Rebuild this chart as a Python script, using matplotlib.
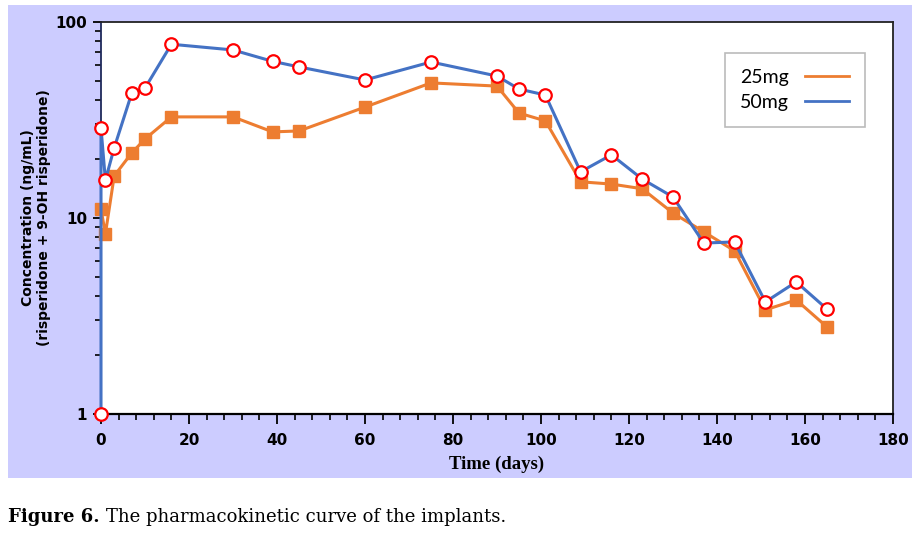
import numpy as np
import matplotlib.pyplot as plt
from matplotlib.patches import Rectangle
from matplotlib.ticker import FixedLocator, MultipleLocator, NullFormatter

# days / concentrations
days_25 = [0, 1, 3, 7, 10, 16, 30, 39, 45, 60, 75, 90, 95, 101, 109, 116, 123, 130, 137, 144, 151, 158, 165]
conc_25 = [11.1, 8.3, 16.4, 21.5, 25.3, 32.8, 32.8, 27.5, 27.8, 36.8, 48.9, 47.1, 34.3, 31.3,
           15.3, 14.9, 14.1, 10.6, 8.5, 6.8, 3.4, 3.82, 2.78]

days_50 = [0, 0, 1, 3, 7, 10, 16, 30, 39, 45, 60, 75, 90, 95, 101, 109, 116, 123, 130, 137, 144, 151, 158, 165]
conc_50 = [1.0, 28.8, 15.6, 22.8, 43.4, 46.0, 77.0, 72.0, 63.0, 59.0, 50.6, 62.5, 53.0, 45.5, 42.4,
           17.2, 21.0, 15.8, 12.8, 7.45, 7.55, 3.73, 4.72, 3.43]

x_ticks = [0, 20, 40, 60, 80, 100, 120, 140, 160, 180]
y_ticks = [1, 10, 100]
y_tick_labels = ["1", "10", "100"]

orange = "#ED7D31"
blue = "#4472C4"

fig = plt.figure(figsize=(9.18, 5.34), dpi=100)
fig.patch.set_facecolor("white")

# lavender panel behind the chart
W, H = 918, 534
fig.patches.append(Rectangle((8 / W, 1 - 478 / H), 904 / W, 473 / H,
                             transform=fig.transFigure, facecolor="#CCCCFF",
                             edgecolor="none", zorder=-10))

ax = fig.add_axes([101 / W, 1 - 414 / H, 792 / W, 392 / H])
ax.set_facecolor("white")

ax.plot(days_25, conc_25, color=orange, lw=2.2, marker="s", ms=8,
        mfc=orange, mec=orange, label="25mg", clip_on=False, zorder=3)
ax.plot(days_50, conc_50, color=blue, lw=2.2, marker="o", ms=9,
        mfc="white", mec="red", mew=1.6, label="50mg", clip_on=False, zorder=4)

ax.set_yscale("log")
ax.set_ylim(1, 100)
ax.set_xlim(0, 180)

ax.yaxis.set_major_locator(FixedLocator(y_ticks))
ax.set_yticklabels(y_tick_labels)
ax.yaxis.set_minor_locator(FixedLocator([k * d for d in (1, 10) for k in range(2, 10)]))
ax.yaxis.set_minor_formatter(NullFormatter())
ax.set_xticks(x_ticks)
ax.xaxis.set_minor_locator(MultipleLocator(4))

tick_font = dict(family="DejaVu Sans", weight="bold", size=11)
for lab in ax.get_xticklabels() + ax.get_yticklabels():
    lab.set_fontproperties(tick_font)

ax.tick_params(which="major", direction="out", length=6, width=1.3, color="black")
ax.tick_params(which="minor", direction="out", length=4, width=1.2, color="black")
ax.tick_params(axis="x", which="major", length=7, pad=7)
ax.tick_params(axis="y", which="major", pad=4)

for side in ("top", "right"):
    ax.spines[side].set_color("#222222")
    ax.spines[side].set_linewidth(1.3)
ax.spines["bottom"].set_linewidth(1.6)
ax.spines["left"].set_linewidth(1.3)
ax.spines["left"].set_color("#1F2A5A")

ax.set_xlabel("Time (days)", family="Liberation Serif", weight="bold", fontsize=13.5, labelpad=5)
ax.set_ylabel("Concentration (ng/mL)\n(risperidone + 9-OH risperidone)",
              family="DejaVu Sans", weight="bold", fontsize=10, labelpad=3,
              linespacing=1.2)

leg = ax.legend(loc="upper right", bbox_to_anchor=(0.9646, 0.921), markerfirst=False,
                frameon=True, fancybox=False, edgecolor="#AAAAAA", handlelength=2.3,
                handletextpad=0.8, borderpad=0.8, labelspacing=0.45, borderaxespad=0,
                prop=dict(family="Lato", size=14))
leg.get_frame().set_linewidth(1.2)
for line in leg.get_lines():
    line.set_marker("")
    line.set_linewidth(2)

# caption: bold lead-in, then plain text right after it
cap1 = fig.text(8 / W, 1 - 517 / H, "Figure 6.", family="DejaVu Serif", weight="bold",
                fontsize=13, va="center", ha="left")
fig.canvas.draw()
x1 = cap1.get_window_extent().x1
fig.text((x1 + 6) / W, 1 - 517 / H, "The pharmacokinetic curve of the implants.",
         family="DejaVu Serif", fontsize=13, va="center", ha="left")

fig.savefig("out.png", dpi=100, facecolor="white")
